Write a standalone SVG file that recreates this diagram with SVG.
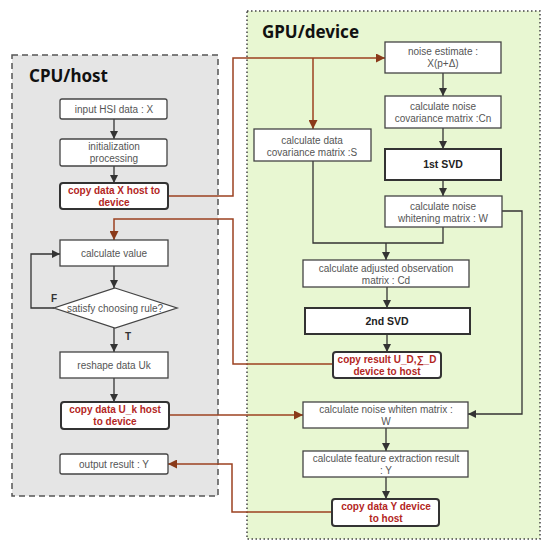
<svg xmlns="http://www.w3.org/2000/svg" width="550" height="549" viewBox="0 0 550 549">
<style>
.n{fill:#fff;stroke:#444;stroke-width:1.3}
.b{fill:#fff;stroke:#333;stroke-width:2}
.t{font-family:"Liberation Sans",Arial,sans-serif;font-size:10px;fill:#555;text-anchor:middle}
.tb{font-family:"Liberation Sans",Arial,sans-serif;font-size:10.5px;font-weight:bold;fill:#222;text-anchor:middle}
.tr{font-family:"Liberation Sans",Arial,sans-serif;font-size:10px;font-weight:bold;fill:#b3261e;text-anchor:middle}
.h{font-family:"Noto Sans","Open Sans",sans-serif;font-size:17px;font-weight:bold;fill:#111}
.c{fill:none;stroke:#333;stroke-width:1.3}
.r{fill:none;stroke:#9c4220;stroke-width:1.5}
.l{font-family:"Liberation Sans",sans-serif;font-size:10px;font-weight:bold;fill:#333}
</style>
<defs>
<marker id="a" viewBox="0 0 10 10" refX="10" refY="5" markerWidth="8" markerHeight="8" markerUnits="userSpaceOnUse" orient="auto"><path d="M0,0 L10,5 L0,10 z" fill="#333"/></marker>
<marker id="ar" viewBox="0 0 10 10" refX="10" refY="5" markerWidth="9" markerHeight="9" markerUnits="userSpaceOnUse" orient="auto"><path d="M0,0 L10,5 L0,10 z" fill="#8a3a1a"/></marker>
</defs>
<rect width="550" height="549" fill="#fff"/>
<g id="cpu">
<rect x="12" y="55" width="206" height="441" fill="#e5e5e5" stroke="#555" stroke-width="1.5" stroke-dasharray="6,4"/>
<text class="h" x="29" y="82">CPU/host</text>
</g>
<g id="gpu">
<rect x="247" y="11" width="293" height="528" fill="#e8f7d2" stroke="#444" stroke-width="1.5" stroke-dasharray="1.5,2.5"/>
<text class="h" x="262" y="38">GPU/device</text>
</g>
<g id="connectors">
<path class="c" d="M114,119 V139" marker-end="url(#a)"/>
<path class="c" d="M114,166 V183" marker-end="url(#a)"/>
<path class="c" d="M114,266 V288" marker-end="url(#a)"/>
<path class="c" d="M114,328 V352" marker-end="url(#a)"/>
<path class="c" d="M114,378 V402" marker-end="url(#a)"/>
<path class="c" d="M54,308 H31 V254 H60" marker-end="url(#a)"/>
<path class="r" d="M168,196 H233 V58 H385" marker-end="url(#ar)"/>
<path class="r" d="M313,58 V129" marker-end="url(#ar)"/>
<path class="r" d="M333,364 H233 V219 H114 V240" marker-end="url(#ar)"/>
<path class="r" d="M169,415 H303" marker-end="url(#ar)"/>
<path class="r" d="M332,512 H232 V464 H168" marker-end="url(#ar)"/>
<path class="c" d="M443,73 V96" marker-end="url(#a)"/>
<path class="c" d="M443,128 V149" marker-end="url(#a)"/>
<path class="c" d="M443,180 V196" marker-end="url(#a)"/>
<path class="c" d="M313,161 V243 H443 V227"/>
<path class="c" d="M386,243 V260" marker-end="url(#a)"/>
<path class="c" d="M387,287 V308" marker-end="url(#a)"/>
<path class="c" d="M387,334 V352" marker-end="url(#a)"/>
<path class="c" d="M502,211 H522 V414 H468" marker-end="url(#a)"/>
<path class="c" d="M386,428 V451" marker-end="url(#a)"/>
<path class="c" d="M386,477 V499" marker-end="url(#a)"/>
</g>
<text class="l" x="51" y="302">F</text>
<text class="l" x="125" y="340">T</text>
<g id="input"><rect class="n" x="60" y="99" width="107" height="20" rx="2"/><text class="t" x="114" y="113">input HSI data : X</text></g>
<g id="init"><rect class="n" x="60" y="139" width="107" height="27" rx="2"/><text class="t" x="114" y="150">initialization</text><text class="t" x="114" y="162">processing</text></g>
<g id="copyX"><rect class="b" x="60" y="183" width="108" height="26" rx="3"/><text class="tr" x="114" y="194">copy data X host to</text><text class="tr" x="114" y="206">device</text></g>
<g id="calcvalue"><rect class="n" x="60" y="240" width="108" height="26"/><text class="t" x="114" y="257">calculate value</text></g>
<g id="rule"><path class="n" d="M115,288 L177,308 L115,328 L54,308 Z"/><text class="t" x="115" y="312">satisfy choosing rule?</text></g>
<g id="reshape"><rect class="n" x="60" y="352" width="108" height="26"/><text class="t" x="114" y="369">reshape data Uk</text></g>
<g id="copyUk"><rect class="b" x="61" y="402" width="108" height="27" rx="3"/><text class="tr" x="115" y="413">copy data U_k host</text><text class="tr" x="115" y="425">to device</text></g>
<g id="output"><rect class="n" x="60" y="454" width="108" height="20" rx="2"/><text class="t" x="114" y="468">output result : Y</text></g>
<g id="noiseest"><rect class="n" x="385" y="42" width="116" height="31"/><text class="t" x="443" y="55">noise estimate  :</text><text class="t" x="443" y="67">X(p+Δ)</text></g>
<g id="noisecov"><rect class="n" x="385" y="96" width="116" height="32"/><text class="t" x="443" y="110">calculate noise</text><text class="t" x="443" y="122">covariance matrix :Cn</text></g>
<g id="svd1"><rect class="b" x="385" y="149" width="116" height="31"/><text class="tb" x="443" y="168">1st SVD</text></g>
<g id="whitening"><rect class="n" x="385" y="196" width="117" height="31"/><text class="t" x="443" y="210">calculate noise</text><text class="t" x="443" y="222">whitening matrix : W</text></g>
<g id="datacov"><rect class="n" x="254" y="129" width="117" height="32"/><text class="t" x="312" y="144">calculate data</text><text class="t" x="312" y="156">covariance matrix :S</text></g>
<g id="adjusted"><rect class="n" x="303" y="260" width="166" height="27"/><text class="t" x="386" y="272">calculate adjusted observation</text><text class="t" x="386" y="284">matrix : Cd</text></g>
<g id="svd2"><rect class="b" x="305" y="308" width="165" height="26"/><text class="tb" x="387" y="325">2nd SVD</text></g>
<g id="copyUD"><rect class="b" x="333" y="352" width="108" height="26" rx="3"/><text class="tr" x="387" y="363">copy result U_D,∑_D</text><text class="tr" x="387" y="375">device to host</text></g>
<g id="whiten"><rect class="n" x="303" y="402" width="165" height="26"/><text class="t" x="386" y="413">calculate noise whiten matrix :</text><text class="t" x="386" y="425">W</text></g>
<g id="feature"><rect class="n" x="303" y="451" width="165" height="26"/><text class="t" x="386" y="462">calculate  feature extraction result</text><text class="t" x="386" y="474">: Y</text></g>
<g id="copyY"><rect class="b" x="332" y="499" width="107" height="27" rx="3"/><text class="tr" x="386" y="510">copy data Y device</text><text class="tr" x="386" y="522">to host</text></g>
</svg>
